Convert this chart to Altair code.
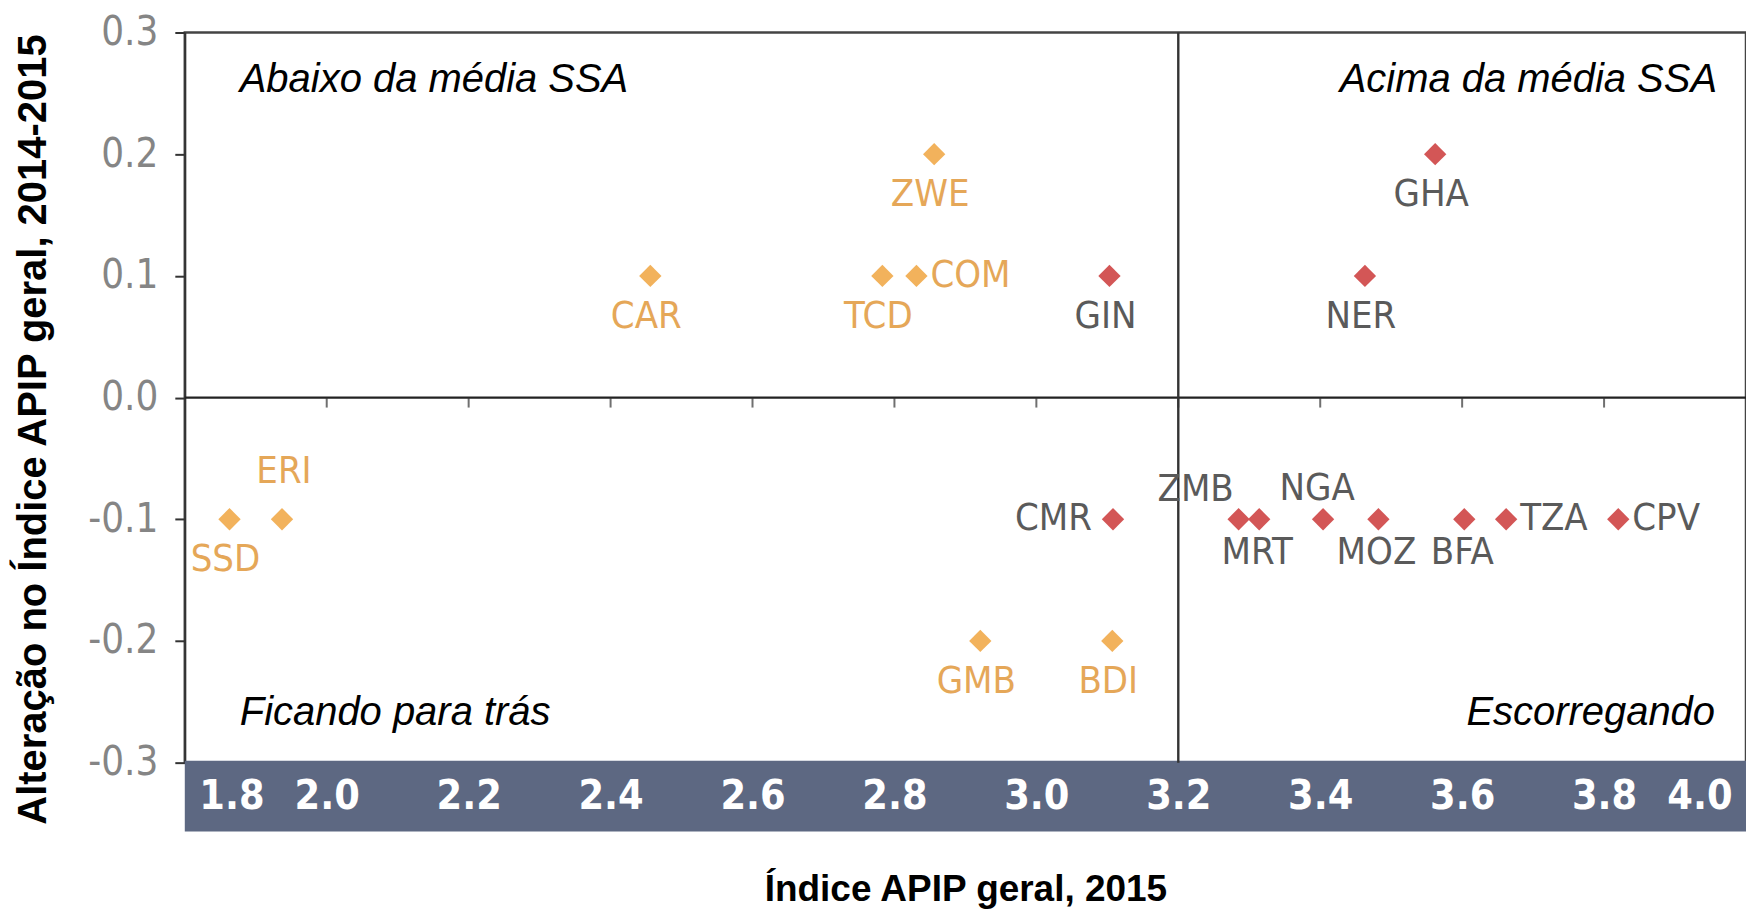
import altair as alt
import pandas as pd

# ---- data ----
countries = ["SSD", "ERI", "CAR", "TCD", "COM", "ZWE", "GIN", "CMR", "GMB", "BDI",
             "GHA", "NER", "ZMB", "MRT", "NGA", "MOZ", "BFA", "TZA", "CPV"]
apip_2015 = [1.863, 1.937, 2.456, 2.783, 2.831, 2.856, 3.103, 3.108, 2.921, 3.107,
             3.562, 3.463, 3.285, 3.314, 3.404, 3.482, 3.603, 3.662, 3.820]
change_14_15 = [-0.1, -0.1, 0.1, 0.1, 0.1, 0.2, 0.1, -0.1, -0.2, -0.2,
                0.2, 0.1, -0.1, -0.1, -0.1, -0.1, -0.1, -0.1, -0.1]
group = ["abaixo", "abaixo", "abaixo", "abaixo", "abaixo", "abaixo", "acima", "acima", "abaixo", "abaixo",
         "acima", "acima", "acima", "acima", "acima", "acima", "acima", "acima", "acima"]
label_place = ["below", "above", "below", "below", "right", "below", "below", "left", "below", "below",
               "below", "below", "above_left", "below_near", "above_near", "below_near", "below_near", "right", "right"]

x_ticks = [1.8, 2.0, 2.2, 2.4, 2.6, 2.8, 3.0, 3.2, 3.4, 3.6, 3.8, 4.0]
y_ticks = [-0.3, -0.2, -0.1, 0.0, 0.1, 0.2, 0.3]
zero_ticks = [2.0, 2.2, 2.4, 2.6, 2.8, 3.0, 3.2, 3.4, 3.6, 3.8]
ssa_mean = [3.2]

quad_text = ["Abaixo da média SSA", "Acima da média SSA", "Ficando para trás", "Escorregando"]
quad_x = [1.8, 4.0, 1.8, 4.0]
quad_y = [0.3, 0.3, -0.3, -0.3]

x_title = "Índice APIP geral, 2015"
y_title = "Alteração no Índice APIP geral, 2014-2015"

# ---- styling ----
W, H = 1563, 731
ORANGE = "#F2B25C"
ORANGE_TXT = "#E5A758"
RED = "#D35656"
GRAY_TXT = "#5a5a5a"
BAND = "#5d6882"
NARROW = "Liberation Sans Narrow, DejaVu Sans Condensed, Arial Narrow, sans-serif"
SANS = "Liberation Sans, Arial, sans-serif"

df = pd.DataFrame({"country": countries, "x": apip_2015, "y": change_14_15,
                   "grp": group, "place": label_place})
qdf = pd.DataFrame({"txt": quad_text, "x": quad_x, "y": quad_y})

xscale = alt.Scale(domain=[1.8, 4.0], nice=False, zero=False)
yscale = alt.Scale(domain=[-0.3, 0.3], nice=False, zero=False)

xaxis = alt.Axis(values=x_ticks, format=".1f", labelFlush=True, labelFlushOffset=-14,
                 domain=False, ticks=False, grid=False, labelColor="white",
                 labelFont=NARROW, labelFontSize=41, labelFontWeight="bold",
                 labelPadding=34, labelBaseline="middle",
                 titleFont=SANS, titleFontSize=37, titleFontWeight="bold", titleColor="black",
                 titleY=127, titleBaseline="middle", zindex=2)
yaxis = alt.Axis(values=y_ticks,
                 labelExpr="datum.value < -0.00001 ? '-' + format(-datum.value, '.1f') : format(abs(datum.value), '.1f')",
                 tickSize=10, tickColor="#333", tickWidth=2, domainColor="#333", domainWidth=2,
                 grid=False, labelFont=NARROW, labelFontSize=40, labelColor="#858585",
                 labelPadding=17, labelBaseline="middle",
                 titleFont=SANS, titleFontSize=40, titleFontWeight="bold", titleColor="black",
                 titleX=-151, titleY=397, titleAngle=-90, titleBaseline="middle", titleAlign="center")


def X(field):
    return alt.X(f"{field}:Q", scale=xscale, axis=xaxis, title=x_title)


def Y(field):
    return alt.Y(f"{field}:Q", scale=yscale, axis=yaxis, title=y_title)


band = alt.Chart(pd.DataFrame({"b": [0]})).mark_rect(color=BAND).encode(
    x=alt.value(0), x2=alt.value(W), y=alt.value(H - 2), y2=alt.value(H + 69))

zero_line = alt.Chart(pd.DataFrame({"y": [0.0]})).mark_rule(color="#222", strokeWidth=2.2).encode(y=Y("y"))
mean_line = alt.Chart(pd.DataFrame({"x": ssa_mean})).mark_rule(color="#333", strokeWidth=2.4).encode(x=X("x"))

zt = alt.Chart(pd.DataFrame({"x": zero_ticks, "y": [0.0] * len(zero_ticks)})).mark_tick(
    orient="vertical", size=10, thickness=2, yOffset=5, color="#333").encode(x=X("x"), y=Y("y"))

points = alt.Chart(df).mark_point(shape="diamond", filled=True, size=500, opacity=1).encode(
    x=X("x"), y=Y("y"),
    color=alt.Color("grp:N", scale=alt.Scale(domain=["abaixo", "acima"], range=[ORANGE, RED]), legend=None))

placements = {
    "below": dict(dx=-4, dy=41, align="center"),
    "below_near": dict(dx=-2, dy=34, align="center"),
    "above": dict(dx=2, dy=-47, align="center"),
    "above_near": dict(dx=-6, dy=-30, align="center"),
    "above_left": dict(dx=-43, dy=-29, align="center"),
    "left": dict(dx=-21, dy=0, align="right"),
    "right": dict(dx=14, dy=0, align="left"),
}
text_colors = {"abaixo": ORANGE_TXT, "acima": GRAY_TXT}

labels = []
for name, p in placements.items():
    for g, col in text_colors.items():
        labels.append(
            alt.Chart(df).transform_filter(
                (alt.datum.place == name) & (alt.datum.grp == g)).mark_text(
                font=NARROW, fontSize=38, baseline="middle", color=col, **p).encode(
                x=X("x"), y=Y("y"), text="country:N"))

quad_specs = [
    (quad_text[0], dict(align="left", dx=55, dy=48)),
    (quad_text[1], dict(align="right", dx=-29, dy=48)),
    (quad_text[2], dict(align="left", dx=55, dy=-50)),
    (quad_text[3], dict(align="right", dx=-31, dy=-50)),
]
quads = []
for t, p in quad_specs:
    quads.append(
        alt.Chart(qdf).transform_filter(alt.datum.txt == t).mark_text(
            font=SANS, fontSize=40, fontStyle="italic", color="black", baseline="middle", **p).encode(
            x=X("x"), y=Y("y"), text="txt:N"))

chart = alt.layer(band, zero_line, mean_line, zt, points, *labels, *quads).properties(
    width=W, height=H,
    autosize=alt.AutoSizeParams(type="none"),
    padding={"left": 177, "top": 24, "right": 0, "bottom": 146},
).configure_view(stroke="#444", strokeWidth=2.5)

chart.save("out.html", embed_options={"renderer": "svg", "actions": False})
